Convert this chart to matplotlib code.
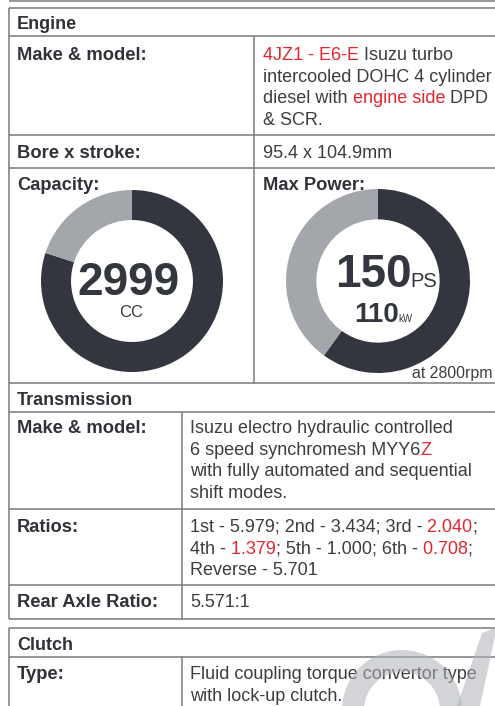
import matplotlib
matplotlib.use("Agg")
import matplotlib.pyplot as plt
from matplotlib.patches import Wedge, Polygon

# Werte aus dem Datenblatt
capacity_cc = 2999
capacity_share = [0.8, 0.2]      # dunkel / grau
power_ps = 150
power_kw = 110
power_rpm = 2800
power_share = [0.6, 0.4]

engine_make = [
    [("4JZ1 - E6-E", "red"), (" Isuzu turbo", "txt")],
    [("intercooled DOHC 4 cylinder", "txt")],
    [("diesel with", "txt"), (" engine side", "red"), (" DPD", "txt")],
    [("& SCR.", "txt")],
]
bore_stroke = "95.4 x 104.9mm"
trans_make = [
    [("Isuzu electro hydraulic controlled", "txt")],
    [("6 speed synchromesh MYY6", "txt"), ("Z", "red")],
    [("with fully automated and sequential", "txt")],
    [("shift modes.", "txt")],
]
ratios = [
    [("1st - 5.979; 2nd - 3.434; 3rd -", "txt"), (" 2.040", "red"), (";", "txt")],
    [("4th -", "txt"), (" 1.379", "red"), ("; 5th - 1.000; 6th -", "txt"), (" 0.708", "red"), (";", "txt")],
    [("Reverse - 5.701", "txt")],
]
rear_axle = "5.571:1"
clutch_type = [
    [("Fluid coupling torque convertor type", "txt")],
    [("with lock-up clutch.", "txt")],
]

W, H = 495, 706
LINE = "#77797d"
LABEL = "#30323a"
COLS = {"txt": "#3d3d3f", "red": "#e3262e"}
DARK = "#33363f"
GREY = "#a3a7ab"
FONT = "Liberation Sans"
NARROW = ["Liberation Sans Narrow", "Liberation Sans"]

fig = plt.figure(figsize=(W / 100, H / 100), dpi=100)
ax = fig.add_axes([0, 0, 1, 1])
ax.set_xlim(0, W)
ax.set_ylim(H, 0)
ax.axis("off")
ax.set_zorder(2)
ax.patch.set_visible(False)


def hline(y, x0=9, x1=W):
    ax.plot([x0, x1], [y, y], color=LINE, lw=1.1, solid_capstyle="butt")


def vline(x, y0, y1):
    ax.plot([x, x], [y0, y1], color=LINE, lw=1.1, solid_capstyle="butt")


def label(x, y, s, size=13.2):
    ax.text(x, y, s, fontsize=size, fontweight="bold", color=LABEL,
            family=FONT, va="baseline")


def runs(x, y, parts, size=13):
    s, c = parts[0]
    t = ax.text(x, y, s, fontsize=size, color=COLS[c], family=FONT, va="baseline")
    for s, c in parts[1:]:
        t = ax.annotate(s, xy=(1, 0), xycoords=t, va="bottom", fontsize=size,
                        color=COLS[c], family=FONT)


def block(x, y0, lines, step=21.6):
    for i, parts in enumerate(lines):
        runs(x, y0 + i * step, parts)


def donut(cx, cy, r, share):
    dax = fig.add_axes([(cx - r) / W, 1 - (cy + r) / H, 2 * r / W, 2 * r / H])
    dax.set_zorder(1)
    dax.pie(share, colors=[DARK, GREY], startangle=90, counterclock=False,
            radius=1, wedgeprops=dict(width=0.33, edgecolor="none"))
    dax.set_xlim(-1, 1)
    dax.set_ylim(-1, 1)
    dax.axis("off")


# Rahmenlinien
hline(1)
for y in [8, 36, 135, 168, 383, 412, 509, 585, 619, 628, 657]:
    hline(y)
vline(9, 8, 619)
vline(9, 628, H)
vline(254, 36, 383)
vline(182, 412, 619)
vline(182, 657, H)

# Motor
label(17, 29, "Engine", 13)
label(17, 60, "Make & model:")
block(263, 60, engine_make)
label(17, 158, "Bore x stroke:")
runs(263, 158, [(bore_stroke, "txt")])
label(17, 190, "Capacity:")
label(263, 190, "Max Power:")

donut(132, 281, 91, capacity_share)
donut(378, 281, 92, power_share)

ax.text(128, 295, str(capacity_cc), fontsize=33, fontweight="bold",
        family=NARROW, color=DARK, ha="center", va="baseline")
ax.text(131, 317, "CC", fontsize=12, family=NARROW, color=DARK,
        ha="center", va="baseline")
ax.text(412, 287, str(power_ps), fontsize=33, fontweight="bold",
        family=NARROW, color=DARK, ha="right", va="baseline")
ax.text(410, 287, "PS", fontsize=14.5, family=NARROW, color=DARK,
        ha="left", va="baseline")
ax.text(399, 322, str(power_kw), fontsize=20, fontweight="bold",
        family=NARROW, color=DARK, ha="right", va="baseline")
ax.text(398, 322, "kW", fontsize=7, family=NARROW, color=DARK,
        ha="left", va="baseline")
ax.text(492, 378, f"at {power_rpm}rpm", fontsize=11.4, family=FONT,
        color=COLS["txt"], ha="right", va="baseline")

# Getriebe
label(17, 405, "Transmission", 13)
label(17, 433, "Make & model:")
block(190, 433, trans_make)
label(17, 532, "Ratios:")
block(190, 532, ratios)
label(17, 607, "Rear Axle Ratio:")
runs(190, 607, [(rear_axle, "txt")])

# Kupplung
label(17, 650, "Clutch", 13)
label(17, 679, "Type:")
block(190, 679, clutch_type)

# Wasserzeichen
wm = dict(facecolor="#aeb2b7", edgecolor="none", alpha=0.55, zorder=5)
ax.add_patch(Wedge((402, 710), 60, 180, 360, width=22, **wm))
ax.add_patch(Polygon([[482, 633], [497, 627], [480, 706], [457, 706]], closed=True, **wm))

fig.savefig("out.png", dpi=100, facecolor="white")
